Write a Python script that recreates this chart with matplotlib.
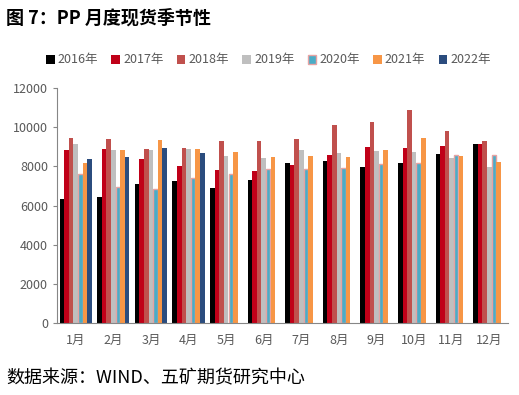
import numpy as np
import matplotlib.pyplot as plt

plt.rcParams['font.family'] = ['Noto Sans CJK SC', 'DejaVu Sans']

months = ['1月', '2月', '3月', '4月', '5月', '6月', '7月', '8月', '9月', '10月', '11月', '12月']
years = ['2016年', '2017年', '2018年', '2019年', '2020年', '2021年', '2022年']

y2016 = [6350, 6420, 7080, 7270, 6880, 7300, 8160, 8280, 7950, 8190, 8630, 9160]
y2017 = [8840, 8910, 8350, 8040, 7800, 7770, 8090, 8580, 9010, 8960, 9040, 9160]
y2018 = [9470, 9390, 8910, 8960, 9280, 9280, 9390, 10100, 10240, 10870, 9800, 9280]
y2019 = [9160, 8840, 8840, 8910, 8550, 8410, 8820, 8670, 8800, 8740, 8450, 7990]
y2020 = [7610, 6930, 6830, 7410, 7630, 7850, 7880, 7920, 8140, 8190, 8600, 8600]
y2021 = [8160, 8840, 9330, 8910, 8740, 8480, 8550, 8480, 8840, 9440, 8520, 8210]
y2022 = [8350, 8480, 8960, 8700]

series = [y2016, y2017, y2018, y2019, y2020, y2021, y2022]
colors = ['#000000', '#C00018', '#C0504D', '#BFBFBF', '#4BACC6', '#F79646', '#2B4C7E']
edges = ['#000000', '#C00018', '#C0504D', '#BFBFBF', '#E6A3A3', '#F79646', '#2B4C7E']

fig = plt.figure(figsize=(5.19, 3.95), dpi=100)
ax = fig.add_axes([57 / 519, 1 - 323 / 395, 451 / 519, 235 / 395])

w = 0.122
for i, vals in enumerate(series):
    x = np.arange(len(vals)) + (i - 3) * w
    lw = 1.0 if i == 4 else 0
    ax.bar(x, vals, width=w * 0.95 if i == 4 else w, color=colors[i],
           edgecolor=edges[i], linewidth=lw, label=years[i])

ax.set_xlim(-0.5, 11.5)
ax.set_ylim(0, 12000)
ax.set_yticks(range(0, 12001, 2000))
ax.set_xticks(range(12))
ax.set_xticklabels(months)
for s in ['top', 'right']:
    ax.spines[s].set_visible(False)
for s in ['left', 'bottom']:
    ax.spines[s].set_color('#868686')
    ax.spines[s].set_linewidth(0.8)
ax.tick_params(axis='y', colors='#868686', labelcolor='#595959', labelsize=9, length=3, width=0.8)
ax.tick_params(axis='x', length=0, labelcolor='#595959', labelsize=9, pad=8)

fig.legend(loc='center', bbox_to_anchor=(0.517, 1 - 60 / 395), ncol=7, frameon=False,
           fontsize=9, handlelength=0.7, handleheight=0.7, handletextpad=0.25,
           columnspacing=1.05, labelcolor='#595959')

fig.text(6 / 519, 1 - 18 / 395, '图 7：PP 月度现货季节性', fontsize=13, fontweight='bold',
         va='center', ha='left')
fig.text(6 / 519, 1 - 378 / 395, '数据来源：WIND、五矿期货研究中心', fontsize=13,
         va='center', ha='left')

fig.savefig('out.png', dpi=100)
